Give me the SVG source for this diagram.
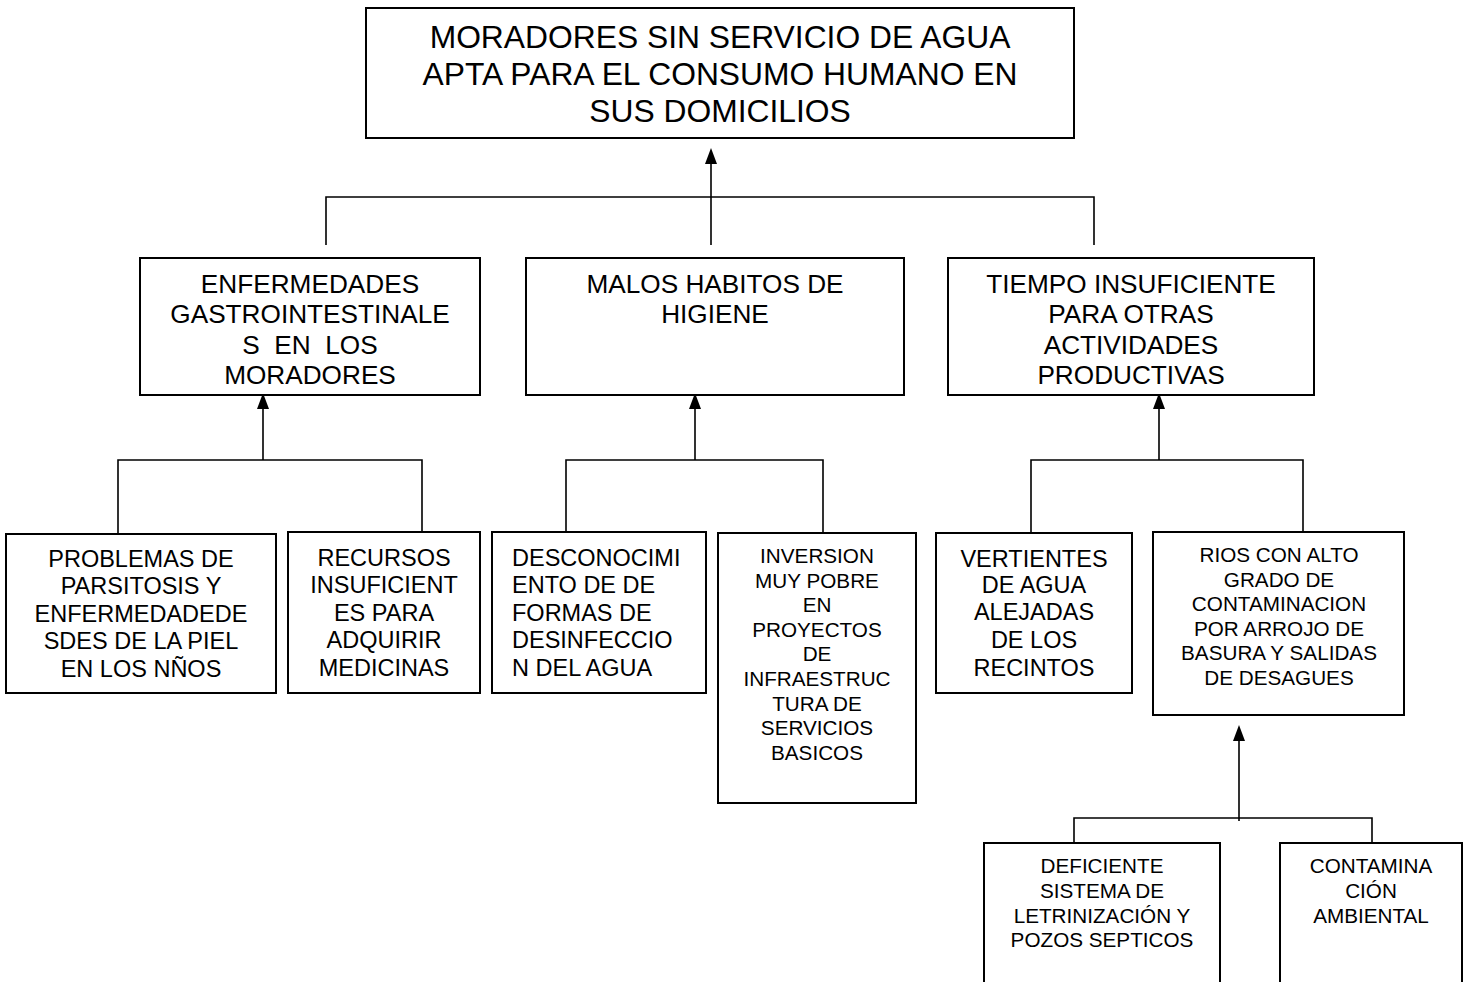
<svg xmlns="http://www.w3.org/2000/svg" width="1470" height="982" viewBox="0 0 1470 982">
<style>
.box{fill:#fff;stroke:#000;stroke-width:2}
.ln{fill:none;stroke:#000;stroke-width:1.6}
.ah{fill:#000}
text{font-family:"Liberation Sans",Arial,sans-serif;fill:#000;text-anchor:middle}
.t32{font-size:31.8px}
.t26{font-size:26.2px}
.t24{font-size:23.5px}
.t21{font-size:20.7px}
.left{text-anchor:start}
</style>
<rect width="1470" height="982" fill="#fff"/>
<g id="connectors">
  <path class="ln" d="M711,245 V160 M326,245 V197 H1094 V245"/>
  <polygon class="ah" points="711,148 705,164 717,164"/>
  <path class="ln" d="M263,405 V460 M118,534 V460 H422 V532"/>
  <polygon class="ah" points="263,393 257,409 269,409"/>
  <path class="ln" d="M695,405 V460 M566,532 V460 H823 V533"/>
  <polygon class="ah" points="695,393 689,409 701,409"/>
  <path class="ln" d="M1159,405 V460 M1031,533 V460 H1303 V532"/>
  <polygon class="ah" points="1159,393 1153,409 1165,409"/>
  <path class="ln" d="M1239,737 V821 M1074,843 V818 H1372 V843"/>
  <polygon class="ah" points="1239,725 1233,741 1245,741"/>
</g>
<g id="n-top">
  <rect class="box" x="366" y="8" width="708" height="130"/>
  <text class="t32" x="720" y="48">MORADORES SIN SERVICIO DE AGUA</text>
  <text class="t32" x="720" y="85">APTA PARA EL CONSUMO HUMANO EN</text>
  <text class="t32" x="720" y="122">SUS DOMICILIOS</text>
</g>
<g id="n-enfermedades">
  <rect class="box" x="140" y="258" width="340" height="137"/>
  <text class="t26" x="310" y="293">ENFERMEDADES</text>
  <text class="t26" x="310" y="323">GASTROINTESTINALE</text>
  <text class="t26" x="310" y="354" xml:space="preserve">S  EN  LOS</text>
  <text class="t26" x="310" y="384">MORADORES</text>
</g>
<g id="n-malos">
  <rect class="box" x="526" y="258" width="378" height="137"/>
  <text class="t26" x="715" y="293">MALOS HABITOS DE</text>
  <text class="t26" x="715" y="323">HIGIENE</text>
</g>
<g id="n-tiempo">
  <rect class="box" x="948" y="258" width="366" height="137"/>
  <text class="t26" x="1131" y="293">TIEMPO INSUFICIENTE</text>
  <text class="t26" x="1131" y="323">PARA OTRAS</text>
  <text class="t26" x="1131" y="354">ACTIVIDADES</text>
  <text class="t26" x="1131" y="384">PRODUCTIVAS</text>
</g>
<g id="n-problemas">
  <rect class="box" x="6" y="534" width="270" height="159"/>
  <text class="t24" x="141" y="567">PROBLEMAS DE</text>
  <text class="t24" x="141" y="594">PARSITOSIS Y</text>
  <text class="t24" x="141" y="622">ENFERMEDADEDE</text>
  <text class="t24" x="141" y="649">SDES DE LA PIEL</text>
  <text class="t24" x="141" y="677">EN LOS NÑOS</text>
</g>
<g id="n-recursos">
  <rect class="box" x="288" y="532" width="192" height="161"/>
  <text class="t24" x="384" y="566">RECURSOS</text>
  <text class="t24" x="384" y="593">INSUFICIENT</text>
  <text class="t24" x="384" y="621">ES PARA</text>
  <text class="t24" x="384" y="648">ADQUIRIR</text>
  <text class="t24" x="384" y="676">MEDICINAS</text>
</g>
<g id="n-desconocimiento">
  <rect class="box" x="492" y="532" width="214" height="161"/>
  <text class="t24 left" x="512" y="566">DESCONOCIMI</text>
  <text class="t24 left" x="512" y="593">ENTO DE DE</text>
  <text class="t24 left" x="512" y="621">FORMAS DE</text>
  <text class="t24 left" x="512" y="648">DESINFECCIO</text>
  <text class="t24 left" x="512" y="676">N DEL AGUA</text>
</g>
<g id="n-inversion">
  <rect class="box" x="718" y="533" width="198" height="270"/>
  <text class="t21" x="817" y="563">INVERSION</text>
  <text class="t21" x="817" y="588">MUY POBRE</text>
  <text class="t21" x="817" y="612">EN</text>
  <text class="t21" x="817" y="637">PROYECTOS</text>
  <text class="t21" x="817" y="661">DE</text>
  <text class="t21" x="817" y="686">INFRAESTRUC</text>
  <text class="t21" x="817" y="711">TURA DE</text>
  <text class="t21" x="817" y="735">SERVICIOS</text>
  <text class="t21" x="817" y="760">BASICOS</text>
</g>
<g id="n-vertientes">
  <rect class="box" x="936" y="533" width="196" height="160"/>
  <text class="t24" x="1034" y="567">VERTIENTES</text>
  <text class="t24" x="1034" y="593">DE AGUA</text>
  <text class="t24" x="1034" y="620">ALEJADAS</text>
  <text class="t24" x="1034" y="648">DE LOS</text>
  <text class="t24" x="1034" y="676">RECINTOS</text>
</g>
<g id="n-rios">
  <rect class="box" x="1153" y="532" width="251" height="183"/>
  <text class="t21" x="1279" y="562">RIOS CON ALTO</text>
  <text class="t21" x="1279" y="587">GRADO DE</text>
  <text class="t21" x="1279" y="611">CONTAMINACION</text>
  <text class="t21" x="1279" y="636">POR ARROJO DE</text>
  <text class="t21" x="1279" y="660">BASURA Y SALIDAS</text>
  <text class="t21" x="1279" y="685">DE DESAGUES</text>
</g>
<g id="n-deficiente">
  <rect class="box" x="984" y="843" width="236" height="160"/>
  <text class="t21" x="1102" y="873">DEFICIENTE</text>
  <text class="t21" x="1102" y="898">SISTEMA DE</text>
  <text class="t21" x="1102" y="923">LETRINIZACIÓN Y</text>
  <text class="t21" x="1102" y="947">POZOS SEPTICOS</text>
</g>
<g id="n-contaminacion">
  <rect class="box" x="1280" y="843" width="182" height="160"/>
  <text class="t21" x="1371" y="873">CONTAMINA</text>
  <text class="t21" x="1371" y="898">CIÓN</text>
  <text class="t21" x="1371" y="923">AMBIENTAL</text>
</g>
</svg>
